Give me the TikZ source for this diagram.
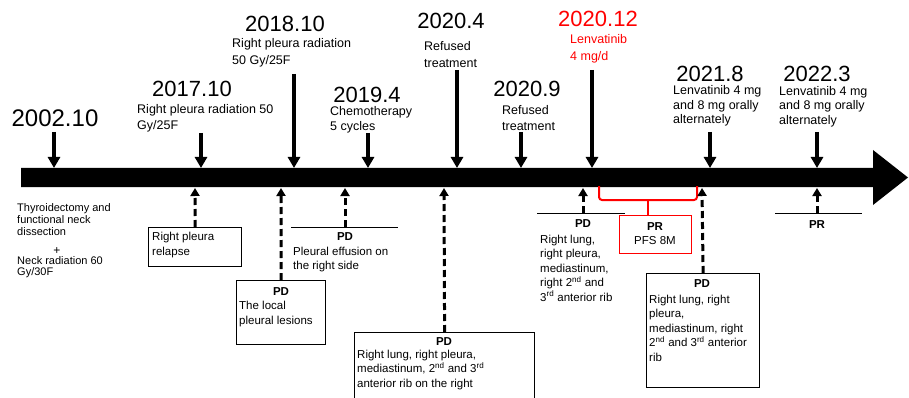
\documentclass[tikz,border=0pt]{standalone}
\usepackage{fontspec}
\setmainfont{Liberation Sans}
\usepackage{tikz}
\usetikzlibrary{arrows.meta,positioning}

\begin{document}
\begin{tikzpicture}[x=1pt,y=-1pt,
	yr/.style={inner sep=0,font=\fontsize{22}{24}\selectfont},
	txt/.style={inner sep=0,anchor=west,align=left,font=\fontsize{12.5}{16.5}\selectfont},
	low/.style={inner sep=0,anchor=west,align=left,font=\fontsize{11.5}{14.5}\selectfont},
	hd/.style={inner sep=0,font=\fontsize{11.5}{14}\selectfont\bfseries},
	box/.style={draw,line width=1.2pt,anchor=north west,inner sep=0},
	down/.style={-{Triangle[width=12pt,length=11pt]},line width=3.5pt},
	up/.style={-{Triangle[width=9pt,length=8pt]},line width=3pt,dash pattern=on 7pt off 4pt}]
		
		\useasboundingbox (0,0) rectangle (909,398);
		
		% timeline bar
		\fill (21,168) -- (873,168) -- (873,150) -- (908,177.5) -- (873,205) -- (873,187) -- (21,187) -- cycle;
		
		% points on the bar
		\foreach \i/\x in {1/54,2/201,3/294,4/368,5/457,6/521,7/592,8/710,9/817}
		\coordinate (p\i) at (\x,168);
		\foreach \i/\x in {1/195,2/281,3/345,4/444,5/583,7/702,8/817}
		\coordinate (q\i) at (\x,188);
		
		% events above the bar
		\node[yr,font=\fontsize{24}{26}\selectfont] (y2002) at (55,118) {2002.10};
		\node[yr] (y2017) at (192,89) {2017.10};
		\node[txt] (t2017) at (137,118.5) {Right pleura radiation 50\\Gy/25F};
		\node[yr] (y2018) at (285,24) {2018.10};
		\node[txt] (t2018) at (232,53) {Right pleura radiation\\50 Gy/25F};
		\node[yr] (y2019) at (367,95) {2019.4};
		\node[txt,font=\fontsize{12.5}{15}\selectfont] (t2019) at (330,119.5) {Chemotherapy\\5 cycles};
		\node[yr] (y2020a) at (451,21) {2020.4};
		\node[txt] (t2020a) at (424,54.5) {Refused\\treatment};
		\node[yr] (y2020b) at (527,89) {2020.9};
		\node[txt] (t2020b) at (502,118) {Refused\\treatment};
		\node[yr,red] (y2020c) at (598,19) {2020.12};
		\node[txt,red] (t2020c) at (570,49) {Lenvatinib\\4 mg/d};
		\node[yr] (y2021) at (710,74) {2021.8};
		\node[txt,font=\fontsize{12.5}{14.5}\selectfont] (t2021) at (673,106) {Lenvatinib 4 mg\\and 8 mg orally\\alternately};
		\node[yr] (y2022) at (817,74) {2022.3};
		\node[txt,font=\fontsize{12.5}{14.5}\selectfont] (t2022) at (779,106.5) {Lenvatinib 4 mg\\and 8 mg orally\\alternately};
		
		\coordinate (s1) at (54,132);
		\coordinate (s2) at (201,133);
		\coordinate (s3) at (294,74);
		\coordinate (s4) at (368,133);
		\coordinate (s5) at (457,70);
		\coordinate (s6) at (521,132);
		\coordinate (s7) at (592,70);
		\coordinate (s8) at (710,132);
		\coordinate (s9) at (817,132);
		\foreach \i in {1,...,9}
		\draw[down] (s\i)--(p\i);
		
		% first treatment
		\node[inner sep=0,anchor=west,align=left,font=\fontsize{11}{12}\selectfont] (op) at (17,220) {Thyroidectomy and\\functional neck\\dissection};
		\node[inner sep=0,font=\fontsize{12}{12}\selectfont] (plus) at (57,251) {+};
		\node[inner sep=0,anchor=west,align=left,font=\fontsize{11}{11}\selectfont] (neck) at (17,267.5) {Neck radiation 60\\Gy/30F};
		
		% results below the bar
		\node[box,minimum width=93,minimum height=39] (b1) at (148,227) {};
		\node[low] (r1) at (152,245) {Right pleura\\relapse};
		\draw[up] (b1.north)--(q1);
		
		\node[box,minimum width=89,minimum height=64] (b2) at (236,280) {};
		\node[hd] (pd2) at (281,292) {PD};
		\node[low] (r2) at (239,314) {The local\\pleural lesions};
		\draw[up] (b2.north)--(q2);
		
		\coordinate (l3a) at (291,227);
		\coordinate (l3b) at (398,227);
		\coordinate (l3) at (345,227);
		\draw[line width=1pt] (l3a)--(l3b);
		\node[hd] (pd3) at (345,237) {PD};
		\node[low] (r3) at (293,259.5) {Pleural effusion on\\the right side};
		\draw[up] (l3)--(q3);
		
		\node[box,minimum width=180,minimum height=80] (b4) at (354,332) {};
		\node[hd] (pd4) at (444,342) {PD};
		\node[low] (r4) at (357,370) {Right lung, right pleura,\\mediastinum, 2\textsuperscript{nd} and 3\textsuperscript{rd}\\anterior rib on the right};
		\draw[up] (b4.north)--(q4);
		
		\coordinate (l5a) at (537,213);
		\coordinate (l5b) at (625,213);
		\coordinate (l5) at (583,213);
		\draw[line width=1pt] (l5a)--(l5b);
		\node[hd] (pd5) at (583,224) {PD};
		\node[low] (r5) at (540,268) {Right lung,\\right pleura,\\mediastinum,\\right 2\textsuperscript{nd} and\\3\textsuperscript{rd} anterior rib};
		\draw[up] (l5)--(q5);
		
		% partial response
		\node[box,draw=red,minimum width=72,minimum height=38] (b6) at (619,215) {};
		\node[hd] (pr6) at (655,227) {PR};
		\node[low,anchor=center] (r6) at (655,241) {PFS 8M};
		\coordinate (c6a) at (599,186);
		\coordinate (c6b) at (697,186);
		\coordinate (c6) at (648,200);
		\draw[red,line width=2pt,rounded corners=3pt] (c6a)--(599,200)--(697,200)--(c6b);
		\draw[red,line width=2pt] (c6)--(c6 |- b6.north);
		
		\node[box,minimum width=113,minimum height=114] (b7) at (646,273) {};
		\node[hd] (pd7) at (702,284) {PD};
		\node[low] (r7) at (649,328) {Right lung, right\\pleura,\\mediastinum, right\\2\textsuperscript{nd} and 3\textsuperscript{rd} anterior\\rib};
		\draw[up] (b7.north)--(q7);
		
		\coordinate (l8a) at (775,213);
		\coordinate (l8b) at (862,213);
		\coordinate (l8) at (817,213);
		\draw[line width=1pt] (l8a)--(l8b);
		\node[hd] (pr8) at (817,225) {PR};
		\draw[up] (l8)--(q8);
		
	\end{tikzpicture}
\end{document}
